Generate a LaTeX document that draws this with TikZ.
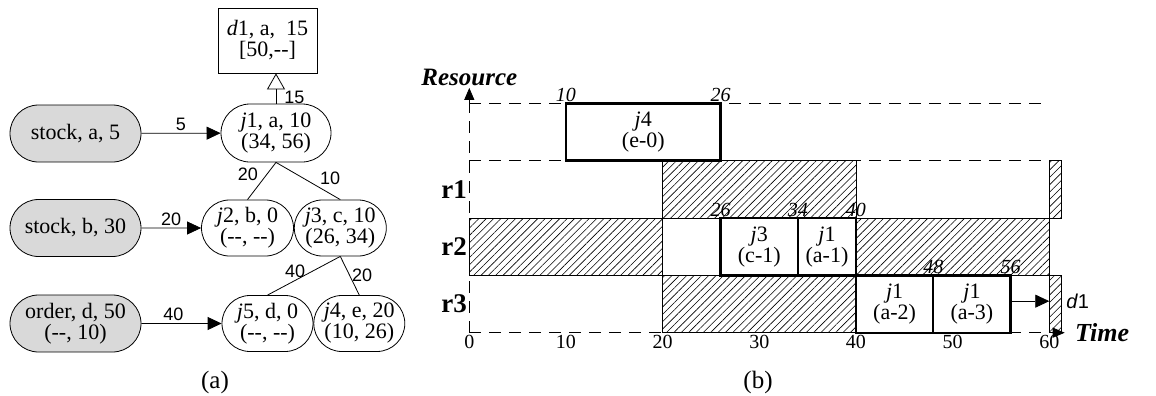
\documentclass[tikz,border=0pt]{standalone}
\usepackage{fontspec}
\setmainfont{Liberation Serif}
\newfontfamily\arialfont{Liberation Sans}
\usetikzlibrary{shapes.misc, arrows.meta, patterns.meta, positioning}
\tikzstyle{source} = [
    rounded rectangle,
    minimum width=67.5pt,
    minimum height=28.5pt,
    inner sep=1pt,
    align=center,
    draw=black,
    fill=gray!30
]
\tikzstyle{job} = [
    rounded rectangle,
    minimum width=48pt,
    minimum height=28pt,
    inner sep=1pt,
    align=center,
    draw=black
]
\tikzstyle{demand} = [
    rectangle,
    minimum width=49.5pt,
    minimum height=32.5pt,
    align=center,
    draw=black
]
\tikzstyle{arrow} = [-{Triangle[length=7pt,width=6.5pt]}]
\tikzstyle{hollow} = [-{Triangle[open,length=8pt,width=9pt]}]
\tikzstyle{wlabel} = [font=\arialfont\fontsize{9}{9}\selectfont, inner sep=1pt]
\tikzstyle{busy} = [draw=black, line width=0.4pt,
    pattern={Lines[angle=45,distance=2.6pt,line width=0.3pt]}]
\tikzstyle{slot} = [draw=black, line width=1.2pt]
\tikzstyle{slottext} = [align=center, inner sep=0pt]
\tikzstyle{grid} = [dash pattern=on 6pt off 4pt, line width=0.5pt]
\tikzstyle{stamp} = [font=\itshape\fontsize{10}{10}\selectfont, anchor=base, inner sep=0pt, yshift=1pt]

\begin{document}
\begin{tikzpicture}[x=0.5pt, y=-0.5pt, font=\fontsize{11}{10.5}\selectfont]
\useasboundingbox (0,0) rectangle (1156,396);

% (a) net of jobs
\node (srcA) [source] at (75.5,133.5) {stock, a, 5};
\node (srcB) [source] at (75.5,228) {stock, b, 30};
\node (srcC) [source] at (75.5,323.5) {order, d, 50\\(-{}-, 10)};

\node (j1) [job, minimum width=57pt, minimum height=29pt] at (276,133)
{\textit{j}1, a, 10\\(34, 56)};
\node (d1) [demand] at (267.5,40.5)
{\textit{d}1, a,\ \ 15\\{}[50,-{}-]};

\node (j2) [job] at (247.5,228) {\textit{j}2, b, 0\\(-{}-, -{}-)};
\node (j3) [job, right=0pt of j2] {\textit{j}3, c, 10\\(26, 34)};

\node (j5) [job, minimum width=47.5pt] at (267.5,323.5)
{\textit{j}5, d, 0\\(-{}-, -{}-)};
\node (j4) [job, minimum width=47.5pt, right=0pt of j5]
{\textit{j}4, e, 20\\(10, 26)};

\draw [arrow] (srcA) -- node[wlabel, above] {5} (j1);
\draw [arrow] (srcB) -- node[wlabel, above] {20} (j2);
\draw [arrow] (srcC) -- node[wlabel, above, pos=0.4] {40} (j5);
\draw [hollow] (j1.north) -- node[wlabel, right=3pt, pos=0.22] {15} (j1.north |- d1.south);

\draw (j1.south) -- node[wlabel, above left, pos=0.55] {20} (j2.north);
\draw (j1.south) -- node[wlabel, above right, pos=0.65] {10} (j3.north);
\draw (j3.south) -- node[wlabel, above, pos=0.62] {40} (j5.north);
\draw (j3.south) -- node[wlabel, right, pos=0.5] {20} (j4.north);

\node (capA) at (215,382) {\fontsize{12.5}{13}\selectfont(a)};

% (b) schedule on resources
\begin{scope}[shift={(469.3,332.7)}]
\begin{scope}[x=4.833pt, y=28.67pt]

% grid and axes
\draw [grid] (0,4) -- (60,4);
\draw [grid] (0,3) -- (60,3);
\draw [grid] (0,0) -- (60,0);
\draw [grid] (0,0) -- (0,4);
\draw [-{Triangle[length=6pt,width=5pt]}] (0,4) -- (0,4.27);
\draw [-{Triangle[length=6pt,width=5pt]}] (60,0) -- (61.6,0);

% busy periods
\draw [busy] (20,2) rectangle (40,3);
\draw [busy] (60,2) rectangle (61.24,3);
\draw [busy] (0,1) rectangle (20,2);
\draw [busy] (40,1) rectangle (60,2);
\draw [busy] (20,0) rectangle (40,1);
\draw [busy] (60,0) rectangle (61.24,1);

% scheduled operations
\draw [slot] (10,3) rectangle (26,4);
\draw [slot] (26,1) rectangle (34,2);
\draw [slot] (34,1) rectangle (40,2);
\draw [slot] (40,0) rectangle (48,1);
\draw [slot] (48,0) rectangle (56,1);
\node (op4) [slottext] at (18,3.5) {\textit{j}4\\(e-0)};
\node (op3) [slottext] at (30,1.5) {\textit{j}3\\(c-1)};
\node (op1a) [slottext] at (37,1.5) {\textit{j}1\\(a-1)};
\node (op1b) [slottext] at (44,0.5) {\textit{j}1\\(a-2)};
\node (op1c) [slottext] at (52,0.5) {\textit{j}1\\(a-3)};

% delivery
\coordinate (release) at (56,0.55);
\coordinate (due) at (60,0.55);
\draw [arrow] (release) -- (due);
\node (dlabel) [font=\arialfont\fontsize{10}{10}\selectfont, right=5pt of due] {\textit{d}1};

% time stamps
\foreach \t/\r in {10/4, 26/4, 26/2, 34/2, 40/2, 48/1, 56/1}
    \node (stamp\t-\r) [stamp] at (\t,\r) {\t};
\foreach \t in {0,10,...,60}
    \node (tick\t) [below, inner sep=1pt, font=\fontsize{10}{10}\selectfont] at (\t,0) {\t};

% labels
\foreach \r/\y in {1/2.5, 2/1.5, 3/0.5}
    \node (row\r) [left, inner sep=1pt, font=\bfseries\fontsize{13.5}{14}\selectfont] at (0,\y) {r\r};
\node (yname) [above, inner sep=1pt, font=\bfseries\itshape\fontsize{12.5}{13}\selectfont] at (0,4.27) {Resource};
\node (xname) [right, inner sep=5pt, font=\bfseries\itshape\fontsize{13}{13}\selectfont] at (61.6,0) {Time};

\end{scope}
\end{scope}

\node (capB) at (758,382) {\fontsize{12.5}{13}\selectfont(b)};

\end{tikzpicture}
\end{document}
